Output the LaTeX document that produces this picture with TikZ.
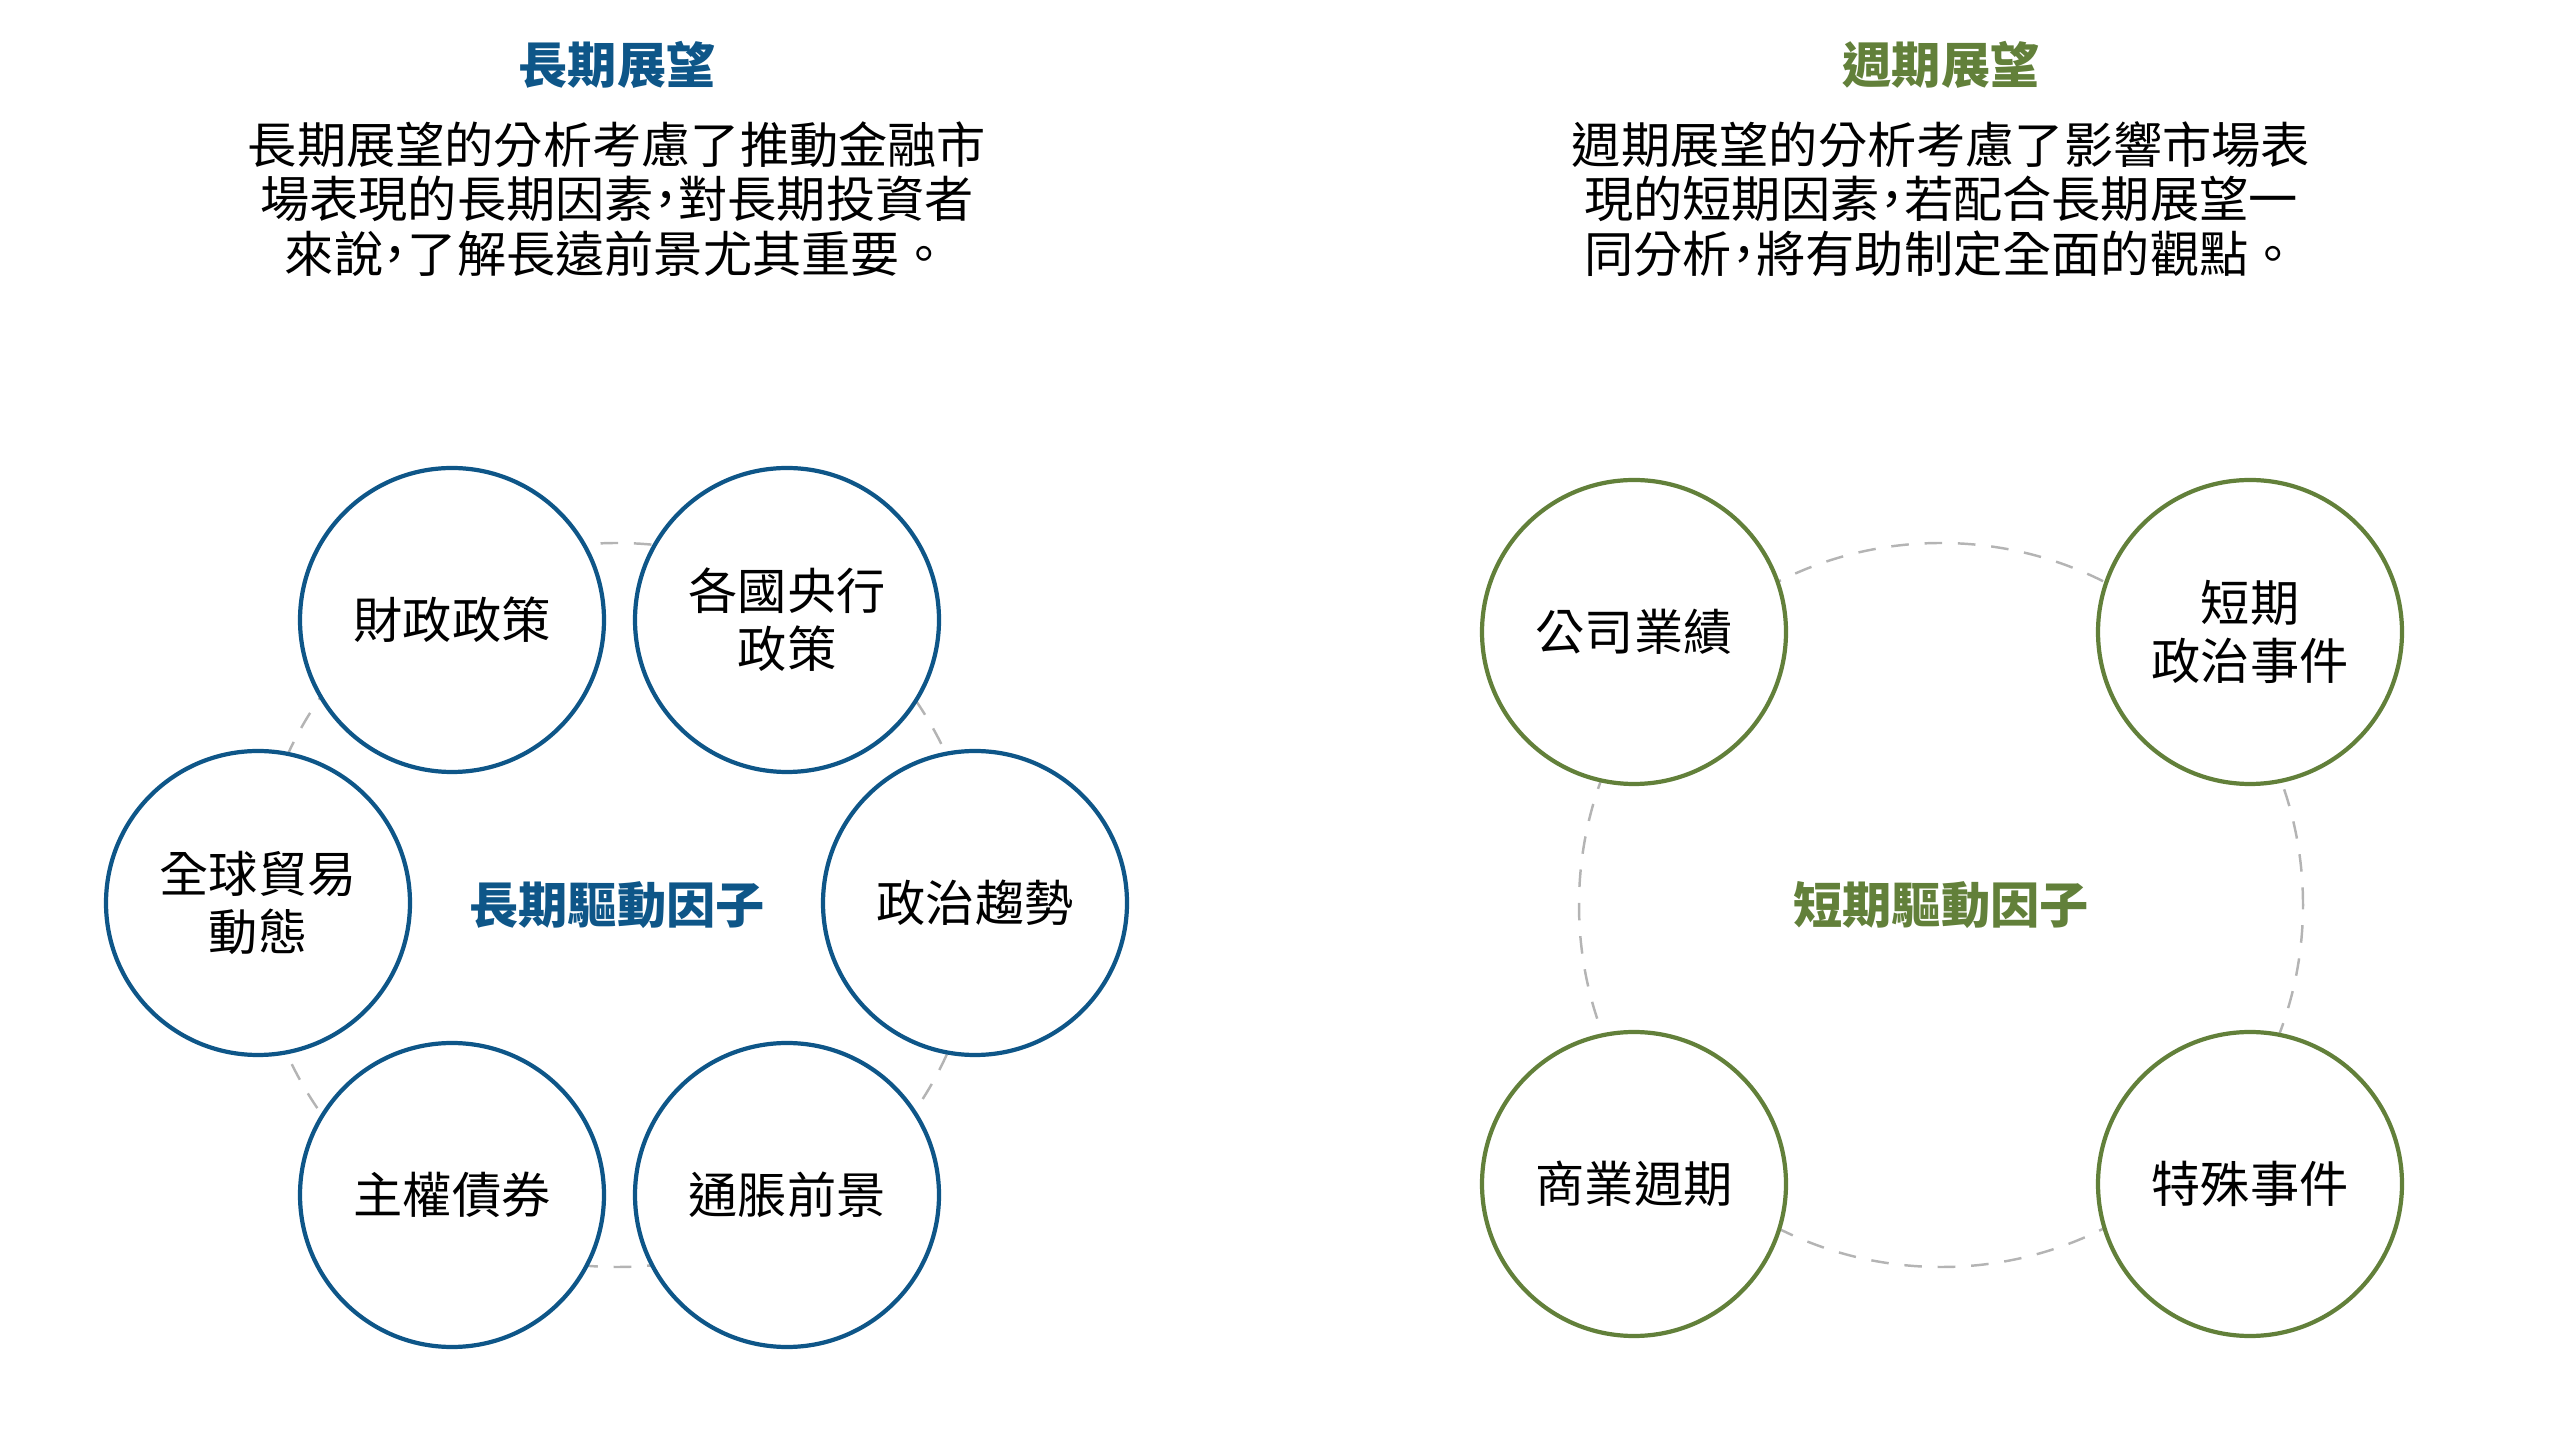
\documentclass[tikz,border=0pt]{standalone}
\usepackage{fontspec}
\setmainfont{Noto Sans CJK TC}
\usetikzlibrary{positioning}
\definecolor{longblue}{RGB}{14,86,136}
\definecolor{cyclegreen}{RGB}{98,128,58}
\definecolor{ringgray}{RGB}{180,180,180}
\newcommand{\halfcomma}{\makebox[0.5em]{，}}

\begin{document}
\begin{tikzpicture}
    \tikzstyle{factor} = [circle, minimum size=3.04cm, inner sep=0pt, line width=1.2pt, fill=white, align=center, font=\fontsize{14pt}{16.5pt}\selectfont]
    \tikzstyle{longfactor} = [factor, draw=longblue]
    \tikzstyle{cyclefactor} = [factor, draw=cyclegreen]
    \tikzstyle{ring} = [draw=ringgray, dash pattern=on 5pt off 4.5pt, line width=0.7pt]
    \tikzstyle{heading} = [font=\fontsize{14pt}{16pt}\selectfont\bfseries]
    \tikzstyle{blurb} = [align=center, font=\fontsize{14pt}{15.6pt}\selectfont]

    \useasboundingbox (0,0) rectangle (25.6,14.4);

    \node [heading, text=longblue] (ltitle) at (6.17,13.75) {長期展望};
    \node [blurb] (ltext) at (6.17,12.41) {長期展望的分析考慮了推動金融市\\場表現的長期因素\halfcomma 對長期投資者\\來說\halfcomma 了解長遠前景尤其重要。};
    \node [heading, text=cyclegreen] (stitle) at (19.41,13.75) {週期展望};
    \node [blurb] (stext) at (19.41,12.41) {週期展望的分析考慮了影響市場表\\現的短期因素\halfcomma 若配合長期展望一\\同分析\halfcomma 將有助制定全面的觀點。};

    \node [heading, text=longblue] (ldrivers) at (6.17,5.35) {長期驅動因子};
    \draw [ring] (ldrivers.center) circle (3.62);
    \node [longfactor] (fiscal) at (4.52,8.20) {財政政策};
    \node [longfactor] (central) at (7.87,8.20) {各國央行\\政策};
    \node [longfactor] (trade) at (2.58,5.37) {全球貿易\\動態};
    \node [longfactor] (politics) at (9.75,5.37) {政治趨勢};
    \node [longfactor] (bonds) at (4.52,2.45) {主權債券};
    \node [longfactor] (inflation) at (7.87,2.45) {通脹前景};

    \node [heading, text=cyclegreen] (sdrivers) at (19.41,5.35) {短期驅動因子};
    \draw [ring] (sdrivers.center) circle (3.62);
    \node [cyclefactor] (earnings) at (16.34,8.08) {公司業績};
    \node [cyclefactor] (shortpol) at (22.50,8.08) {短期\\政治事件};
    \node [cyclefactor] (cycle) at (16.34,2.56) {商業週期};
    \node [cyclefactor] (special) at (22.50,2.56) {特殊事件};
\end{tikzpicture}
\end{document}
